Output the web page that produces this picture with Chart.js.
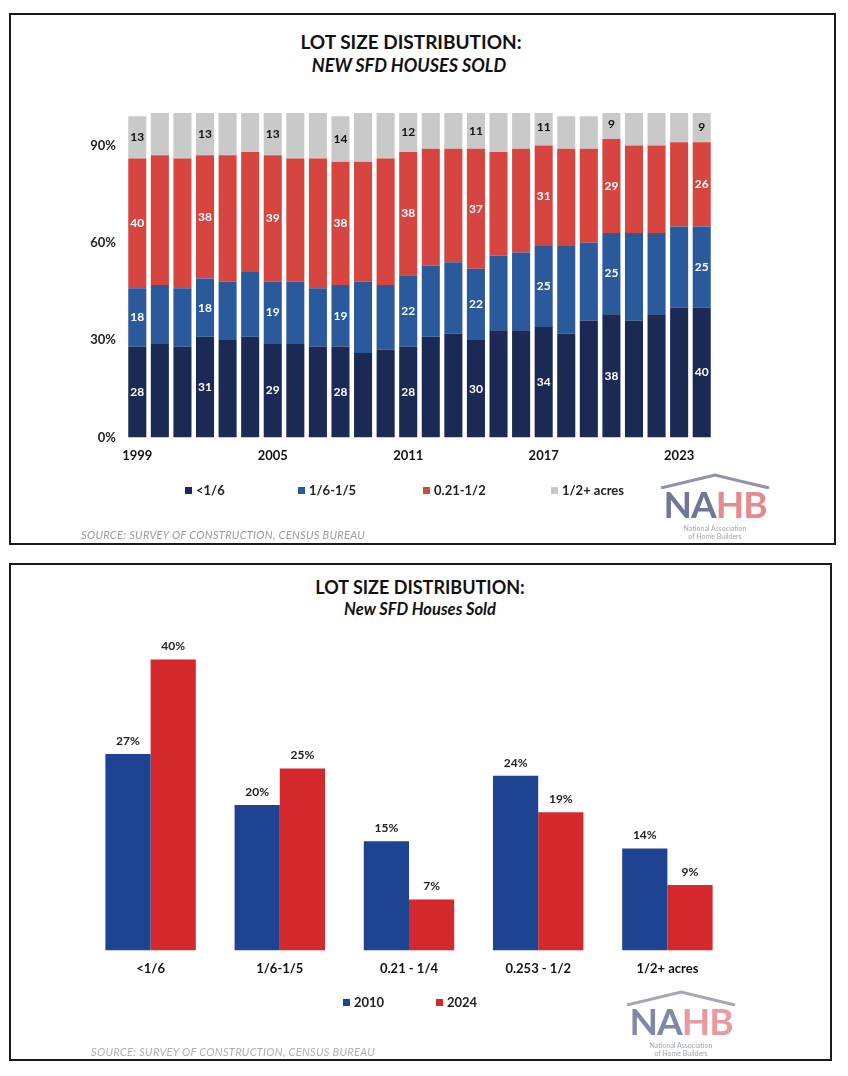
<!DOCTYPE html>
<html>
<head>
<meta charset="utf-8">
<script src="https://cdn.jsdelivr.net/npm/chart.js@4.4.1/dist/chart.umd.min.js"></script>
<style>
  body { margin: 0; background: #fff; font-family: Lato, "Open Sans", sans-serif; }
  .panel { position: absolute; border: 2px solid #1a1a1a; background: #fff; box-sizing: border-box; }
  .panel canvas { position: absolute; left: 0; top: 0; }
  .title { position: absolute; text-align: center; font-weight: bold; color: #111; white-space: nowrap; }
  .legend { position: absolute; font-weight: bold; font-size: 13px; color: #222; }
  .legend span { position: absolute; white-space: nowrap; }
  .legend i { display: inline-block; width: 7px; height: 7px; margin-right: 4px; vertical-align: 1px; }
  .source { position: absolute; font-style: italic; font-size: 11px; color: #9a9a9a; letter-spacing: 0.3px; white-space: nowrap; }
  .logo { position: absolute; width: 116px; height: 70px; text-align: center; }
  .logo svg { position: absolute; left: 2px; top: 0; width: 112px; height: 16px; }
  .logo .nahb { position: absolute; left: 0; top: 12px; width: 116px; font: bold 37px/38px Lato, sans-serif; letter-spacing: -1px; }
  .logo .sub { position: absolute; left: 0; top: 51px; width: 116px; font-size: 7px; color: #a0a4b4; line-height: 8px; }
</style>
</head>
<body>
<div class="panel" style="left:9px; top:13px; width:827px; height:532px;">
  <div class="title" style="left:0; width:800px; top:15px; font-size:19px;">LOT SIZE DISTRIBUTION:</div>
  <div class="title" style="left:0; width:796px; top:39px; font-size:18px; font-style:italic;">NEW SFD HOUSES SOLD</div>
  <canvas id="chart-top" width="823" height="528"></canvas>
  <div class="legend" id="legend-top" style="left:0; top:467px;"></div>
  <div class="source" style="left:70px; top:513px;">SOURCE: SURVEY OF CONSTRUCTION, CENSUS BUREAU</div>
  <div class="logo" style="left:646px; top:458px;">
    <svg viewBox="0 0 112 16"><polyline points="2,15 56,2 110,15" fill="none" stroke="#8f93a8" stroke-width="3"/></svg>
    <div class="nahb"><span style="color:#6f7697">NA</span><span style="color:#e58a8f">HB</span></div>
    <div class="sub">National Association<br>of Home Builders</div>
  </div>
</div>

<div class="panel" style="left:9px; top:563px; width:823px; height:498px;">
  <div class="title" style="left:0; width:818px; top:11px; font-size:18px;">LOT SIZE DISTRIBUTION:</div>
  <div class="title" style="left:0; width:818px; top:34px; font-size:16.5px; font-style:italic;">New SFD Houses Sold</div>
  <canvas id="chart-bottom" width="819" height="494"></canvas>
  <div class="legend" id="legend-bottom" style="left:0; top:429px;"></div>
  <div class="source" style="left:80px; top:480px; color:#b0b0b0;">SOURCE: SURVEY OF CONSTRUCTION, CENSUS BUREAU</div>
  <div class="logo" style="left:612px; top:425px;">
    <svg viewBox="0 0 112 16"><polyline points="2,15 56,2 110,15" fill="none" stroke="#a3a7b8" stroke-width="3"/></svg>
    <div class="nahb"><span style="color:#8088a8">NA</span><span style="color:#e99aa0">HB</span></div>
    <div class="sub">National Association<br>of Home Builders</div>
  </div>
</div>

<script>
// Top chart data (percent of new SFD houses sold)
const years = ['1999','2000','2001','2002','2003','2004','2005','2006','2007','2008','2009','2010','2011',
  '2012','2013','2014','2015','2016','2017','2018','2019','2020','2021','2022','2023','2024'];
const lotLess16 = [28,29,28,31,30,31,29,29,28,28,26,27,28,31,32,30,33,33,34,32,36,38,36,38,40,40];
const lot16to15 = [18,18,18,18,18,20,19,19,18,19,22,20,22,22,22,22,23,24,25,27,24,25,27,25,25,25];
const lot21to12 = [40,40,40,38,39,37,39,38,40,38,37,39,38,36,35,37,32,32,31,30,29,29,27,27,26,26];
const lotOver12 = [13,13,14,13,13,12,13,14,14,14,15,14,12,11,11,11,12,11,11,10,10, 9,10,10, 9, 9];
const labeledBars = [0,3,6,9,12,15,18,21,25];
const yTicks = [0,30,60,90];

// Bottom chart data
const sizeCats = ['<1/6','1/6-1/5','0.21 - 1/4','0.253 - 1/2','1/2+ acres'];
const share2010 = [27,20,15,24,14];
const share2024 = [40,25,7,19,9];

const FONT = 'Lato, "Open Sans", sans-serif';

// draws value text in the middle of segments of the selected bars
const stackLabels = {
  id: 'stackLabels',
  afterDatasetsDraw(chart) {
    const ctx = chart.ctx;
    ctx.save();
    ctx.font = 'bold 12px ' + FONT;
    ctx.textAlign = 'center';
    ctx.textBaseline = 'middle';
    chart.data.datasets.forEach((ds, di) => {
      const meta = chart.getDatasetMeta(di);
      labeledBars.forEach(i => {
        const bar = meta.data[i];
        ctx.fillStyle = di === 3 ? '#111' : '#fff';
        ctx.fillText(ds.data[i], bar.x, (bar.y + bar.base) / 2);
      });
    });
    ctx.restore();
  }
};

const topLabels = ['<1/6','1/6-1/5','0.21-1/2','1/2+ acres'];
const topColors = ['#1b2a55','#2b5a9c','#d6453f','#c9c9c9'];

new Chart(document.getElementById('chart-top'), {
  type: 'bar',
  data: {
    labels: years,
    datasets: [
      { label: topLabels[0], data: lotLess16, backgroundColor: topColors[0] },
      { label: topLabels[1], data: lot16to15, backgroundColor: topColors[1] },
      { label: topLabels[2], data: lot21to12, backgroundColor: topColors[2] },
      { label: topLabels[3], data: lotOver12, backgroundColor: topColors[3] }
    ]
  },
  options: {
    responsive: false,
    animation: false,
    layout: { padding: { top: 98, left: 0, right: 121, bottom: 68 } },
    datasets: { bar: { categoryPercentage: 1, barPercentage: 0.8 } },
    plugins: { legend: { display: false }, tooltip: { enabled: false } },
    scales: {
      x: {
        stacked: true,
        grid: { display: false, drawTicks: false },
        border: { display: false },
        ticks: {
          autoSkip: false, maxRotation: 0, padding: 11, color: '#111',
          font: { family: FONT, size: 13, weight: 'bold' },
          callback: (v, i) => i % 6 === 0 ? years[i] : ''
        }
      },
      y: {
        stacked: true, min: 0, max: 100,
        grid: { display: false, drawTicks: false },
        border: { display: false },
        afterFit: s => { s.width = 115; },
        afterBuildTicks: s => { s.ticks = yTicks.map(v => ({ value: v })); },
        ticks: {
          padding: 10, color: '#222',
          font: { family: FONT, size: 13, weight: 'bold' },
          callback: v => v + '%'
        }
      }
    }
  },
  plugins: [stackLabels]
});

// value labels above grouped bars
const topValues = {
  id: 'topValues',
  afterDatasetsDraw(chart) {
    const ctx = chart.ctx;
    ctx.save();
    ctx.font = 'bold 12px ' + FONT;
    ctx.fillStyle = '#222';
    ctx.textAlign = 'center';
    ctx.textBaseline = 'middle';
    chart.data.datasets.forEach((ds, di) => {
      chart.getDatasetMeta(di).data.forEach((bar, i) => {
        ctx.fillText(ds.data[i] + '%', bar.x, bar.y - 13);
      });
    });
    ctx.restore();
  }
};

const botLabels = ['2010','2024'];
const botColors = ['#1f4393','#d5282c'];

new Chart(document.getElementById('chart-bottom'), {
  type: 'bar',
  data: {
    labels: sizeCats,
    datasets: [
      { label: botLabels[0], data: share2010, backgroundColor: botColors[0] },
      { label: botLabels[1], data: share2024, backgroundColor: botColors[1] }
    ]
  },
  options: {
    responsive: false,
    animation: false,
    layout: { padding: { top: 58, left: 75, right: 98, bottom: 71 } },
    datasets: { bar: { categoryPercentage: 0.7, barPercentage: 1 } },
    plugins: { legend: { display: false }, tooltip: { enabled: false } },
    scales: {
      x: {
        grid: { display: false, drawTicks: false },
        border: { display: false },
        ticks: { padding: 11, color: '#111', font: { family: FONT, size: 13, weight: 'bold' } }
      },
      y: { display: false, min: 0, max: 45 }
    }
  },
  plugins: [topValues]
});

// html legends
function buildLegend(el, labels, colors, xs) {
  labels.forEach((t, i) => {
    const s = document.createElement('span');
    s.style.left = xs[i] + 'px';
    s.innerHTML = '<i style="background:' + colors[i] + '"></i>';
    s.appendChild(document.createTextNode(t));
    el.appendChild(s);
  });
}
buildLegend(document.getElementById('legend-top'), topLabels, topColors, [174, 287, 412, 540]);
buildLegend(document.getElementById('legend-bottom'), botLabels, botColors, [332, 425]);
</script>
</body>
</html>
